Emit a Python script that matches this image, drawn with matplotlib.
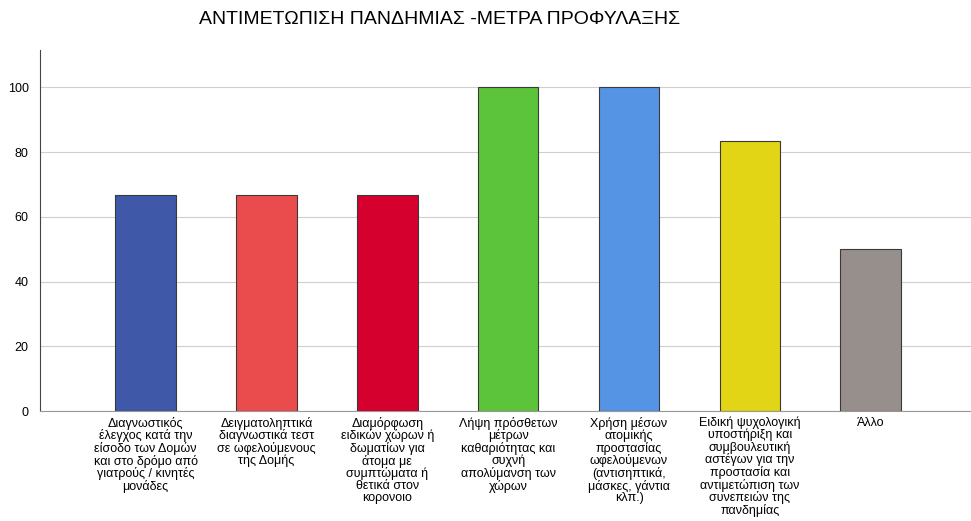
import numpy as np
import matplotlib.pyplot as plt

plt.rcParams['font.family'] = ['Liberation Sans', 'DejaVu Sans']

labels = [
    "Διαγνωστικός\nέλεγχος κατά την\nείσοδο των Δομών\nκαι στο δρόμο από\nγιατρούς / κινητές\nμονάδες",
    "Δειγματοληπτικά\nδιαγνωστικά τεστ\nσε ωφελούμενους\nτης Δομής",
    "Διαμόρφωση\nειδικών χώρων ή\nδωματίων για\nάτομα με\nσυμπτώματα ή\nθετικά στον\nκορονοιο",
    "Λήψη πρόσθετων\nμέτρων\nκαθαριότητας και\nσυχνή\nαπολύμανση των\nχώρων",
    "Χρήση μέσων\nατομικής\nπροστασίας\nωφελούμενων\n(αντισηπτικά,\nμάσκες, γάντια\nκλπ.)",
    "Ειδική ψυχολογική\nυποστήριξη και\nσυμβουλευτική\nαστέγων για την\nπροστασία και\nαντιμετώπιση των\nσυνεπειών της\nπανδημίας",
    "Άλλο",
]
values = [66.67, 66.67, 66.67, 100, 100, 83.33, 50]
colors = ['#3f58a8', '#ea4b4c', '#d6002f', '#5cc43a', '#5594e4', '#e2d516', '#968f8c']

fig = plt.figure(figsize=(9.71, 5.21), dpi=100)
ax = fig.add_axes([0.041, 0.211, 0.959, 0.693])

x = np.arange(len(values))
ax.bar(x, values, width=0.5, color=colors, edgecolor='#3a3a3a', linewidth=0.8, zorder=3)

ax.set_xlim(-0.876, 6.83)
ax.set_ylim(0, 111.5)
ax.set_yticks([0, 20, 40, 60, 80, 100])
ax.yaxis.grid(True, color='#cfcfcf', linewidth=0.8, zorder=0)
ax.tick_params(axis='y', length=0, labelsize=9, pad=8)
ax.tick_params(axis='x', length=0, pad=4)
ax.set_xticks(x)
ax.set_xticklabels(labels, fontsize=9, linespacing=0.97, va='top')

for s in ['top', 'right']:
    ax.spines[s].set_visible(False)
ax.spines['left'].set_color('#444444')
ax.spines['bottom'].set_color('#999999')

fig.text(0.453, 0.962, 'ΑΝΤΙΜΕΤΩΠΙΣΗ ΠΑΝΔΗΜΙΑΣ -ΜΕΤΡΑ ΠΡΟΦΥΛΑΞΗΣ',
         ha='center', va='center', fontsize=14)

fig.savefig('out.png', dpi=100)
